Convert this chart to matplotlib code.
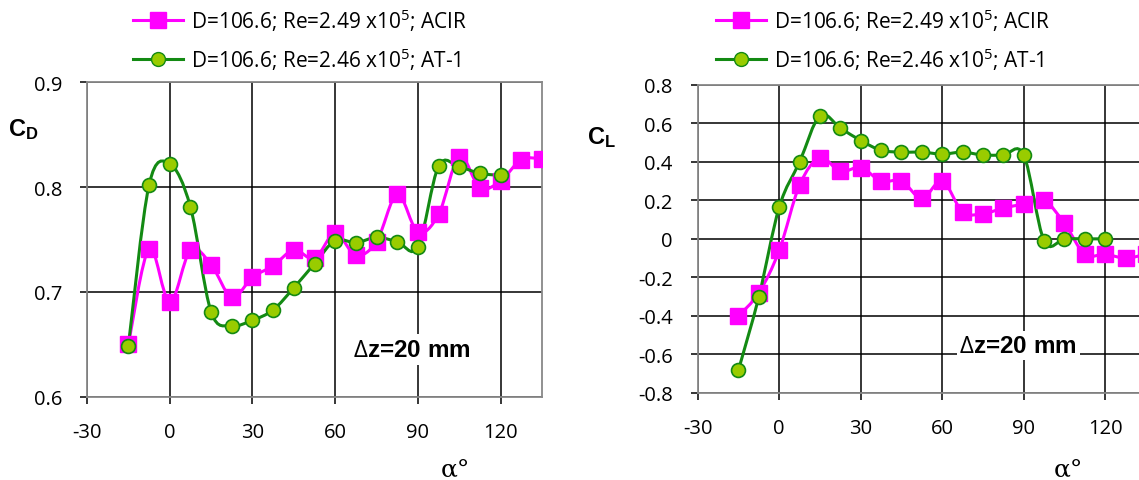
import matplotlib
matplotlib.use("Agg")
import matplotlib.pyplot as plt
import numpy as np
from matplotlib.path import Path
from matplotlib.patches import PathPatch
from matplotlib.lines import Line2D

plt.rcParams['font.family'] = ['Open Sans', 'DejaVu Sans']
plt.rcParams['mathtext.fontset'] = 'custom'
plt.rcParams['mathtext.rm'] = 'Open Sans'
plt.rcParams['mathtext.it'] = 'Open Sans:italic'
plt.rcParams['mathtext.bf'] = 'Liberation Sans:bold'
plt.rcParams['axes.unicode_minus'] = False

# angle of attack, deg
alpha_acir = np.arange(-15, 135.1, 7.5)
alpha_at1 = np.arange(-15, 120.1, 7.5)

# drag coefficient
cd_acir = [0.650, 0.741, 0.690, 0.740, 0.726, 0.695, 0.714, 0.725, 0.740, 0.732,
           0.756, 0.735, 0.748, 0.793, 0.757, 0.774, 0.829, 0.799, 0.806, 0.826, 0.827]
cd_at1 = [0.649, 0.802, 0.822, 0.781, 0.681, 0.668, 0.673, 0.683, 0.704, 0.727,
          0.749, 0.747, 0.752, 0.748, 0.743, 0.820, 0.819, 0.813, 0.811]

# lift coefficient
cl_acir = [-0.40, -0.28, -0.06, 0.28, 0.42, 0.35, 0.37, 0.30, 0.30, 0.21,
           0.30, 0.14, 0.13, 0.16, 0.18, 0.20, 0.08, -0.08, -0.08, -0.10, -0.08]
cl_at1 = [-0.68, -0.30, 0.165, 0.40, 0.64, 0.575, 0.51, 0.46, 0.45, 0.45,
          0.44, 0.45, 0.435, 0.435, 0.435, -0.01, 0.0, 0.0, 0.0]

lab_acir = "D=106.6; Re=2.49 x10$^5$; ACIR"
lab_at1 = "D=106.6; Re=2.46 x10$^5$; AT-1"

MAG = "#ff00ff"
GRN = "#138a13"
LGRN = "#99cc00"


def smooth(ax, x, y, color, lw):
    # excel-like smoothed line: cubic bezier segments through the points
    x = np.asarray(x, float)
    y = np.asarray(y, float)
    verts = [(x[0], y[0])]
    codes = [Path.MOVETO]
    n = len(x)
    for i in range(n - 1):
        p0 = i - 1 if i > 0 else i
        p3 = i + 2 if i + 2 < n else i + 1
        c1 = (x[i] + (x[i + 1] - x[p0]) / 6, y[i] + (y[i + 1] - y[p0]) / 6)
        c2 = (x[i + 1] - (x[p3] - x[i]) / 6, y[i + 1] - (y[p3] - y[i]) / 6)
        verts += [c1, c2, (x[i + 1], y[i + 1])]
        codes += [Path.CURVE4] * 3
    ax.add_patch(PathPatch(Path(verts, codes), fc="none", ec=color, lw=lw, zorder=3))


def style(ax, ylim, yticks, ylabels, xlim):
    ax.set_xlim(*xlim)
    ax.set_ylim(*ylim)
    ax.set_xticks(np.arange(-30, 121, 30))
    ax.set_yticks(yticks)
    ax.set_yticklabels(ylabels)
    ax.grid(True, color="black", lw=1.1)
    ax.set_axisbelow(True)
    for s in ax.spines.values():
        s.set_color("#888888")
        s.set_linewidth(1.3)
    ax.tick_params(labelsize=14.5, length=5, width=1.1, color="black",
                   direction="out")
    ax.tick_params(axis="x", pad=13)
    ax.tick_params(axis="y", pad=13)


def draw(ax, ycd_acir, ycd_at1):
    smooth(ax, alpha_acir, ycd_acir, MAG, 2.2)
    ax.plot(alpha_acir, ycd_acir, ls="none", marker="s", ms=12, color=MAG, zorder=4)
    smooth(ax, alpha_at1, ycd_at1, GRN, 2.2)
    ax.plot(alpha_at1, ycd_at1, ls="none", marker="o", ms=10, mfc=LGRN, mec=GRN,
            mew=1.2, zorder=5)


dz_font = dict(fontsize=17.5, fontweight="bold", family=["Liberation Sans"])
c_font = dict(fontsize=17, fontweight="bold", family=["Liberation Sans"])

fig = plt.figure(figsize=(11.39, 4.81), dpi=100)

# ---- left: drag
ax1 = fig.add_axes([0.0764, 0.1726, 0.3995, 0.6548])
draw(ax1, cd_acir, cd_at1)
style(ax1, (0.6, 0.9), [0.6, 0.7, 0.8, 0.9], ["0.6", "0.7", "0.8", "0.9"], (-30, 135))
ax1.text(87.6, 0.645, r"$\Delta$z=20 mm", ha="center", va="center", zorder=6,
         bbox=dict(fc="white", ec="none", pad=3), **dz_font)
fig.text(0.007, 0.717, r"C$_\mathbf{D}$", **c_font)
fig.text(0.387, 0.008, "α°", fontsize=18, family=["DejaVu Serif"])

# ---- right: lift
ax2 = fig.add_axes([0.6126, 0.1809, 0.4293, 0.6409])
draw(ax2, cl_acir, cl_at1)
cl_ticks = np.round(np.arange(-0.8, 0.81, 0.2), 1)
cl_labels = ["0" if t == 0 else f"{t:.1f}" for t in cl_ticks]
style(ax2, (-0.8, 0.8), cl_ticks, cl_labels, (-30, 150))
ax2.text(87.9, -0.554, r"$\Delta$z=20 mm", ha="center", va="center", zorder=6,
         bbox=dict(fc="white", ec="none", pad=2), **dz_font)
fig.text(0.515, 0.70, r"C$_\mathbf{L}$", **c_font)
fig.text(0.925, 0.008, "α°", fontsize=18, family=["DejaVu Serif"])

# legends
h1 = Line2D([], [], color=MAG, lw=2.2, marker="s", ms=12)
h2 = Line2D([], [], color=GRN, lw=2.2, marker="o", ms=10, mfc=LGRN, mec=GRN)
for x0 in (133 / 1139, 716 / 1139):
    fig.legend([h1, h2], [lab_acir, lab_at1], loc="upper left",
               bbox_to_anchor=(x0, 1 - 7 / 481), frameon=False, borderpad=0,
               borderaxespad=0, fontsize=15, handlelength=2.4, labelspacing=0.6,
               handletextpad=0.4)

fig.savefig("out.png", dpi=100)
